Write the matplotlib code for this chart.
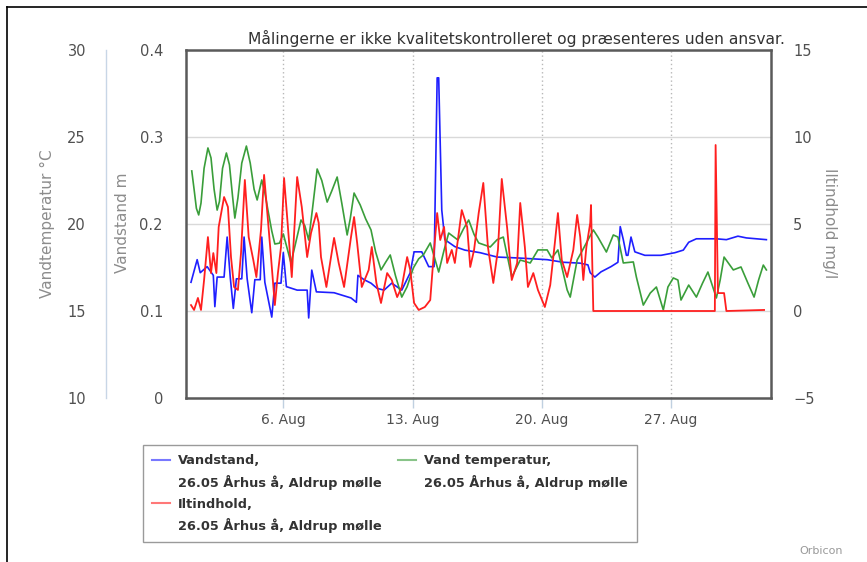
import matplotlib
matplotlib.use("Agg")
import matplotlib.pyplot as plt
from matplotlib.lines import Line2D
from matplotlib.patches import Patch

plt.rcParams['font.family'] = ['DejaVu Sans']

# ---------------- data (hours since 1 Aug 00:00) ----------------
level_hours = [0, 8, 12, 21, 29, 31, 34, 43, 47, 51, 55, 59, 66, 69, 73, 79, 83, 90, 92, 96,
               105, 109, 117, 120, 124, 138, 151, 153, 157, 163, 186, 208, 215, 217, 225, 234,
               242, 251, 261, 274, 285, 290, 300, 309, 316, 320, 322, 326, 330, 343, 356, 376,
               398, 424, 463, 484, 506, 516, 519, 525, 533, 546, 555, 558, 562, 566, 568, 572,
               577, 590, 611, 629, 640, 647, 657, 683, 696, 711, 722, 748]
level_m = [0.133, 0.159, 0.144, 0.151, 0.141, 0.105, 0.139, 0.139, 0.185, 0.139, 0.103, 0.137,
           0.137, 0.185, 0.137, 0.098, 0.136, 0.136, 0.185, 0.133, 0.093, 0.132, 0.132, 0.167,
           0.128, 0.124, 0.124, 0.092, 0.147, 0.122, 0.121, 0.115, 0.110, 0.141, 0.136, 0.132,
           0.126, 0.124, 0.132, 0.124, 0.144, 0.168, 0.168, 0.151, 0.151, 0.368, 0.368, 0.216,
           0.182, 0.174, 0.170, 0.167, 0.162, 0.161, 0.159, 0.156, 0.155, 0.153, 0.144, 0.139,
           0.145, 0.151, 0.156, 0.197, 0.182, 0.164, 0.164, 0.185, 0.168, 0.164, 0.164, 0.167,
           0.170, 0.179, 0.183, 0.183, 0.182, 0.186, 0.184, 0.182]

temp_hours = [1, 4, 7, 10, 13, 17, 22, 26, 30, 34, 37, 41, 46, 50, 54, 57, 61, 66, 72, 77,
              82, 86, 92, 96, 100, 105, 109, 115, 120, 125, 130, 136, 143, 148, 153, 158, 164,
              170, 177, 183, 190, 196, 203, 207, 212, 220, 227, 234, 240, 247, 253, 259, 266,
              274, 281, 289, 296, 302, 311, 322, 329, 335, 347, 354, 361, 368, 374, 389, 398,
              406, 417, 428, 441, 451, 463, 469, 477, 489, 493, 502, 507, 516, 523, 529, 540,
              549, 555, 562, 575, 579, 588, 597, 605, 614, 620, 627, 633, 637, 647, 657, 665,
              672, 683, 688, 693, 705, 715, 724, 732, 738, 744, 748]
temp_c = [23.05, 22.0, 20.9, 20.52, 21.2, 23.2, 24.37, 23.8, 22.0, 20.80, 21.3, 23.2, 24.08,
          23.4, 21.6, 20.34, 21.5, 23.5, 24.48, 23.5, 22.0, 21.38, 22.53, 21.8, 20.80, 19.6,
          18.85, 18.9, 19.43, 18.6, 17.76, 18.9, 20.23, 19.9, 19.08, 20.9, 23.16, 22.5, 21.26,
          21.9, 22.70, 21.2, 19.37, 20.3, 21.78, 21.09, 20.3, 19.66, 18.4, 17.36, 17.8, 18.22,
          17.0, 15.80, 16.4, 17.47, 18.0, 18.22, 18.91, 17.24, 18.5, 19.48, 19.08, 19.7, 20.23,
          19.4, 18.91, 18.68, 19.1, 19.25, 16.95, 17.93, 17.76, 18.51, 18.51, 18.05, 18.51,
          16.21, 15.80, 17.93, 18.33, 19.08, 19.66, 19.25, 18.39, 19.37, 19.25, 17.76, 17.82,
          16.95, 15.34, 16.03, 16.38, 15.06, 16.38, 16.90, 16.78, 15.63, 16.49, 15.80, 16.6,
          17.24, 15.75, 16.8, 18.10, 17.36, 17.53, 16.6, 15.80, 16.8, 17.64, 17.36]

oxy_hours = [0, 4, 9, 13, 17, 22, 26, 29, 33, 36, 43, 48, 52, 56, 61, 65, 70, 75, 81, 85, 91,
             95, 100, 104, 109, 113, 117, 121, 126, 131, 138, 144, 151, 156, 163, 166, 169, 176,
             182, 186, 192, 199, 208, 212, 216, 222, 231, 235, 241, 247, 255, 261, 268, 274,
             281, 285, 290, 296, 304, 311, 315, 320, 324, 329, 333, 339, 343, 352, 359, 363,
             368, 374, 380, 386, 393, 399, 404, 411, 417, 424, 428, 434, 438, 445, 451, 460,
             467, 473, 477, 482, 489, 497, 502, 506, 510, 514, 519, 520, 523, 681, 682, 685,
             693, 696, 745]
oxy_mg = [0.34, 0.06, 0.75, 0.06, 1.78, 4.25, 2.18, 3.33, 2.18, 4.83, 6.55, 5.98, 3.10, 1.38,
          1.21, 3.33, 7.53, 4.25, 2.93, 1.95, 4.66, 7.82, 5.23, 3.10, 0.34, 2.18, 3.68, 7.64,
          4.83, 1.95, 7.70, 5.98, 3.10, 4.48, 5.63, 5.06, 3.10, 1.38, 3.10, 4.20, 2.76, 1.38,
          4.25, 5.40, 3.91, 1.38, 2.36, 3.68, 1.61, 0.46, 2.18, 1.78, 0.80, 1.38, 3.10, 2.36,
          0.46, 0.06, 0.23, 0.63, 2.93, 5.63, 4.08, 4.83, 2.76, 3.51, 2.76, 5.80, 4.83, 2.53,
          3.51, 5.63, 7.36, 3.68, 1.61, 3.51, 7.59, 4.77, 1.78, 2.76, 6.21, 3.68, 1.38, 2.18,
          1.21, 0.23, 1.49, 3.91, 5.63, 2.93, 1.95, 3.51, 5.52, 4.25, 1.78, 3.68, 5.06, 6.09,
          0.0, 0.0, 9.54, 1.03, 1.03, 0.0, 0.06]

date_ticks_hours = [120, 288, 456, 624]
date_tick_labels = ["6. Aug", "13. Aug", "20. Aug", "27. Aug"]
level_ticks = [0, 0.1, 0.2, 0.3, 0.4]
temp_ticks = [10, 15, 20, 25, 30]
oxy_ticks = [-5, 0, 5, 10, 15]

station = "26.05 Århus å, Aldrup mølle"
title = "Målingerne er ikke kvalitetskontrolleret og præsenteres uden ansvar."

# ---------------- figure ----------------
W, H = 867, 562
fig = plt.figure(figsize=(W / 100, H / 100), dpi=100)

def fx(px):
    return px / W

def fy(py):
    return 1 - py / H

L, R, T, B = 186, 771, 50, 398
ax = fig.add_axes([fx(L), fy(B), fx(R - L), (B - T) / H])

BLUE = '#1f1fff'
GREEN = '#3a9e3a'
RED = '#ff1f1f'
TICKC = '#505050'
TITLEC = '#8c8c8c'
PX = 0.72  # points per pixel

# water level (left axis)
ax.plot(level_hours, level_m, color=BLUE, lw=1.2, zorder=3)
ax.set_ylim(0, 0.4)
ax.set_xlim(-6.5, 754)
ax.set_yticks(level_ticks)
ax.set_yticklabels([f"{v:g}" for v in level_ticks])
ax.tick_params(axis='y', length=0, pad=23 * PX, labelsize=10.5, labelcolor=TICKC)
ax.set_xticks(date_ticks_hours)
ax.set_xticklabels(date_tick_labels)
ax.tick_params(axis='x', length=10 * PX, width=1, color='#c0d0e0', direction='out',
               pad=5 * PX, labelsize=10, labelcolor=TICKC)
ax.grid(axis='y', color='#d9d9d9', lw=1, ls='-')
ax.grid(axis='x', color='#b8b8b8', lw=1, ls=(0, (1, 2)))
ax.set_axisbelow(True)
for s in ax.spines.values():
    s.set_color('#5a5a5a')
    s.set_linewidth(1.8)

# temperature (outer left axis)
axt = ax.twinx()
axt.plot(temp_hours, temp_c, color=GREEN, lw=1.2)
axt.set_ylim(10, 30)
axt.yaxis.tick_left()
axt.yaxis.set_label_position('left')
axt.spines['left'].set_position(('outward', (L - 106) * PX))
axt.spines['left'].set_color('#c8d6e6')
axt.spines['left'].set_linewidth(1)
for k in ('right', 'top', 'bottom'):
    axt.spines[k].set_visible(False)
axt.set_yticks(temp_ticks)
axt.set_yticklabels([str(v) for v in temp_ticks])
axt.tick_params(axis='y', length=0, pad=20 * PX, labelsize=10.5, labelcolor=TICKC)

# oxygen (right axis)
axo = ax.twinx()
axo.plot(oxy_hours, oxy_mg, color=RED, lw=1.3)
axo.set_ylim(-5, 15)
for s in axo.spines.values():
    s.set_visible(False)
axo.set_yticks(oxy_ticks)
axo.set_yticklabels([("\u2212" + str(-v)) if v < 0 else str(v) for v in oxy_ticks])
axo.tick_params(axis='y', length=0, pad=22 * PX, labelsize=10.5, labelcolor=TICKC)

# axis titles
fig.text(fx(47), fy(224), "Vandtemperatur °C", rotation=90, ha='center', va='center',
         fontsize=11, color=TITLEC)
fig.text(fx(122), fy(223), "Vandstand m", rotation=90, ha='center', va='center',
         fontsize=11, color=TITLEC)
fig.text(fx(830), fy(223), "Iltindhold mg/l", rotation=270, ha='center', va='center',
         fontsize=11, color=TITLEC)

# chart subtitle
fig.text(fx(516), fy(38), title, ha='center', va='center', fontsize=11.2, color='#333333')

# legend
blank = Patch(visible=False)
handles = [Line2D([], [], color=BLUE, lw=1.5, alpha=0.6), blank,
           Line2D([], [], color=RED, lw=1.5, alpha=0.6), blank,
           Line2D([], [], color=GREEN, lw=1.5, alpha=0.6), blank, blank, blank]
labels = ["Vandstand,", station, "Iltindhold,", station,
          "Vand temperatur,", station, "", ""]
leg = fig.legend(handles, labels, ncol=2, loc='upper left',
                 bbox_to_anchor=(fx(143), fy(445)), bbox_transform=fig.transFigure,
                 borderaxespad=0, frameon=True, fancybox=False, framealpha=1,
                 edgecolor='#9a9a9a', prop={'size': 9.3, 'weight': 'bold'},
                 handlelength=1.4, handletextpad=0.6, labelspacing=0.6,
                 columnspacing=1.3, borderpad=0.7)
leg.get_frame().set_linewidth(1)
for t in leg.get_texts():
    t.set_color('#333333')

# credits
fig.text(fx(821), fy(551), "Orbicon", ha='center', va='center', fontsize=8, color='#999999')

# outer border (top and left)
fig.add_artist(Line2D([fx(7), 1], [fy(7), fy(7)], color='black', lw=1.2))
fig.add_artist(Line2D([fx(7), fx(7)], [fy(7), 0], color='black', lw=1.2))

fig.savefig("out.png", dpi=100)
